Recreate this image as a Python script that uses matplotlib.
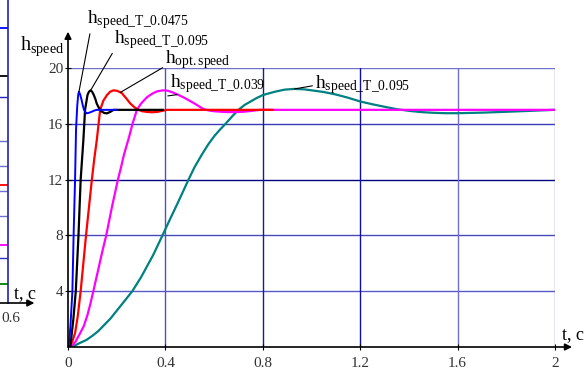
import matplotlib
matplotlib.use("Agg")
import matplotlib.pyplot as plt

plt.rcParams['font.family'] = ['Liberation Serif', 'DejaVu Serif']
plt.rcParams['mathtext.fontset'] = 'custom'
plt.rcParams['mathtext.rm'] = 'Liberation Serif'
plt.rcParams['mathtext.it'] = 'Liberation Serif:italic'

# step responses (t in s, h)
t_blue = [0, 0.005, 0.01, 0.018, 0.023, 0.029, 0.033, 0.038, 0.042, 0.045, 0.05, 0.056, 0.061, 0.066, 0.071,
          0.077, 0.088, 0.098, 0.108, 0.118, 0.2]
h_blue = [0, 0.4, 1.5, 4, 8, 12, 15.6, 17.3, 18.1, 18.3, 18.1, 17.7, 17.3, 17.0, 16.85,
          16.75, 16.8, 16.87, 16.95, 17.0, 17.0]

t_black = [0, 0.01, 0.022, 0.032, 0.043, 0.052, 0.063, 0.07, 0.08, 0.086, 0.093, 0.099, 0.105, 0.112, 0.118,
           0.128, 0.139, 0.15, 0.16, 0.173, 0.187, 0.39]
h_black = [0, 0.1, 2, 4, 8, 12, 14.8, 17.0, 18.06, 18.3, 18.4, 18.3, 18.1, 17.8, 17.45,
           17.1, 16.87, 16.77, 16.75, 16.85, 17.0, 17.0]

t_red = [0, 0.008, 0.018, 0.029, 0.04, 0.052, 0.063, 0.074, 0.086, 0.098, 0.108, 0.118, 0.125, 0.132, 0.145,
         0.16, 0.173, 0.187, 0.2, 0.21, 0.221, 0.238, 0.256, 0.272, 0.289, 0.305, 0.325, 0.345, 0.366, 0.385,
         0.407, 0.84]
h_red = [0, 0.05, 0.4, 1.0, 2.2, 4, 6, 8, 10, 12, 13.5, 14.8, 15.9, 17.0, 17.65,
         18.06, 18.3, 18.4, 18.37, 18.3, 18.2, 17.85, 17.45, 17.2, 17.0, 16.9, 16.85, 16.83, 16.85, 16.92,
         17.0, 17.0]

t_mag = [0, 0.015, 0.03, 0.05, 0.065, 0.08, 0.092, 0.104, 0.117, 0.13, 0.143, 0.157, 0.18, 0.205, 0.218,
         0.23, 0.25, 0.265, 0.283, 0.3, 0.324, 0.345, 0.365, 0.39, 0.41, 0.43, 0.45, 0.474, 0.5, 0.52,
         0.54, 0.557, 0.58, 0.6, 0.64, 0.68, 0.72, 0.76, 0.79, 2.0]
h_mag = [0, 0.05, 0.35, 1.0, 1.5, 2.3, 3.1, 4, 5, 6, 7, 8, 10, 12, 12.9,
         13.8, 15.0, 16.0, 17.0, 17.45, 17.9, 18.15, 18.32, 18.4, 18.37, 18.25, 18.1, 17.9, 17.65, 17.45,
         17.23, 17.05, 16.95, 16.9, 16.85, 16.84, 16.86, 16.94, 17.0, 17.0]

t_teal = [0, 0.025, 0.05, 0.075, 0.1, 0.125, 0.15, 0.175, 0.2, 0.23, 0.264, 0.3, 0.35, 0.388, 0.42,
          0.45, 0.495, 0.52, 0.55, 0.575, 0.6, 0.625, 0.647, 0.675, 0.7, 0.725, 0.75, 0.775, 0.8, 0.85,
          0.89, 0.93, 0.97, 1.0, 1.05, 1.1, 1.15, 1.2, 1.25, 1.3, 1.35, 1.4, 1.45, 1.5, 1.55,
          1.6, 1.7, 1.8, 1.9, 2.0]
h_teal = [0, 0.08, 0.3, 0.5, 0.8, 1.15, 1.6, 2.05, 2.6, 3.25, 4, 5.0, 6.6, 8, 9.2,
          10.3, 12, 12.9, 13.8, 14.5, 15.1, 15.6, 16, 16.55, 17, 17.35, 17.6, 17.85, 18.06, 18.3,
          18.45, 18.5, 18.47, 18.4, 18.28, 18.1, 17.87, 17.6, 17.4, 17.22, 17.05, 16.93, 16.84, 16.79, 16.76,
          16.76, 16.8, 16.86, 16.93, 17.0]

x_ticks = [0, 0.4, 0.8, 1.2, 1.6, 2]
x_ticklabels = ['0', '0.4', '0.8', '1.2', '1.6', '2']
y_ticks = [4, 8, 12, 16, 20]

# fragment of the neighbouring chart at the left edge
frag_levels = [28, 76, 97, 141, 166, 185, 191, 216, 245, 258, 284]
frag_colors = ['#0000ff', 'black', '#2020c0', '#7070d0', '#7070d0', '#ff0000', '#7070d0', '#7070d0',
               '#ff00ff', '#3030c0', '#008000']

W, H = 587, 372
fig = plt.figure(figsize=(W / 100, H / 100), dpi=100)

# main axes: t=0 at px 68, t=2 at px 555, h=0 at px 347, h=20 at px 68
ax = fig.add_axes([68 / W, (H - 347) / H, 487 / W, 279 / H])
ax.set_xlim(0, 2)
ax.set_ylim(0, 20)
for s in ax.spines.values():
    s.set_visible(False)

hcols = {4: '#5858c8', 8: '#4848b8', 12: '#000080', 16: '#3a3ab8', 20: '#7070d0'}
vcols = {0.4: '#5050c8', 0.8: '#1818a0', 1.2: '#1010a0', 1.6: '#7070d0', 2: '#8080d8'}
for y in y_ticks:
    ax.axhline(y, color=hcols[y], lw=1.0, zorder=1)
for x in x_ticks[1:]:
    ax.axvline(x, color=vcols[x], lw=1.0, zorder=1)

ax.plot(t_teal, h_teal, color='#008080', lw=1.6, zorder=3)
ax.plot(t_mag, h_mag, color='#ff00ff', lw=1.6, zorder=3)
ax.plot(t_red, h_red, color='#ff0000', lw=1.6, zorder=4)
ax.plot(t_black, h_black, color='black', lw=1.6, zorder=5)
ax.plot(t_blue, h_blue, color='#0000ff', lw=1.4, zorder=6)

# axes with arrows
ax.annotate('', xy=(2.07, 0), xytext=(0, 0), xycoords='data',
            arrowprops=dict(arrowstyle='-|>', color='black', lw=1.2, mutation_scale=10,
                            shrinkA=0, shrinkB=0), annotation_clip=False, zorder=7)
ax.annotate('', xy=(0, 22.6), xytext=(0, 0), xycoords='data',
            arrowprops=dict(arrowstyle='-|>', color='black', lw=1.2, mutation_scale=10,
                            shrinkA=0, shrinkB=0), annotation_clip=False, zorder=7)

ax.set_xticks(x_ticks)
ax.set_xticklabels(x_ticklabels)
ax.set_yticks(y_ticks)
ax.tick_params(axis='both', direction='inout', length=5, width=0.8, color='black',
               labelsize=11, labelcolor='#333333')
ax.tick_params(axis='x', pad=5)
ax.tick_params(axis='y', pad=1)

ax.text(2.03, 0.6, 't, c', fontsize=13, ha='left', va='baseline')
ax.text(-0.197, 21.3, r'$\mathrm{h}_{\mathrm{speed}}$', fontsize=14.5, ha='left', va='baseline')

lab = dict(fontsize=14, ha='left', va='baseline', annotation_clip=False,
           textcoords='data', zorder=8)
ap = dict(arrowstyle='-', color='black', lw=0.8, shrinkA=0, shrinkB=0)
ax.annotate(r'$\mathrm{h}_{\mathrm{speed\_T\_0.0475}}$', xy=(0.045, 18.3), xytext=(0.078, 23.2),
            arrowprops=dict(ap, relpos=(0.04, 0.15)), **lab)
ax.annotate(r'$\mathrm{h}_{\mathrm{speed\_T\_0.095}}$', xy=(0.093, 18.4), xytext=(0.189, 21.8),
            arrowprops=dict(ap, relpos=(0.02, 0.15)), **lab)
ax.annotate(r'$\mathrm{h}_{\mathrm{opt.speed}}$', xy=(0.215, 18.25), xytext=(0.40, 20.36),
            arrowprops=dict(ap, relpos=(0.0, 0.2)), **lab)
ax.annotate(r'$\mathrm{h}_{\mathrm{speed\_T\_0.039}}$', xy=(0.41, 18.0), xytext=(0.42, 18.64),
            arrowprops=dict(ap, relpos=(0.07, 0.0)), **lab)
ax.annotate(r'$\mathrm{h}_{\mathrm{speed\_T\_0.095}}$', xy=(0.93, 18.5), xytext=(1.015, 18.57),
            arrowprops=dict(ap, relpos=(0.0, 0.45)), **lab)

# left edge: cut piece of the neighbouring chart
fx = fig.add_axes([0, (H - 303) / H, 8 / W, 303 / H])
fx.set_xlim(0, 1)
fx.set_ylim(303, 0)
fx.axis('off')
for lv, c in zip(frag_levels, frag_colors):
    fx.axhline(lv, color=c, lw=1.3 if c in ('#0000ff', 'black', '#ff0000', '#ff00ff', '#008000') else 1.0)
fx.axvline(1, color='#2020c0', lw=1.2, clip_on=False)
fx.annotate('', xy=(4.3, 303), xytext=(0, 303), xycoords='data',
            arrowprops=dict(arrowstyle='-|>', color='black', lw=1.2, mutation_scale=10,
                            shrinkA=0, shrinkB=0), annotation_clip=False)
fx.text(1.7, 298, 't, c', fontsize=13, ha='left', va='baseline', clip_on=False)
fx.text(1.3, 318, '0.6', fontsize=11, ha='center', va='center', color='#333333', clip_on=False)

fig.savefig('out.png', dpi=100)
